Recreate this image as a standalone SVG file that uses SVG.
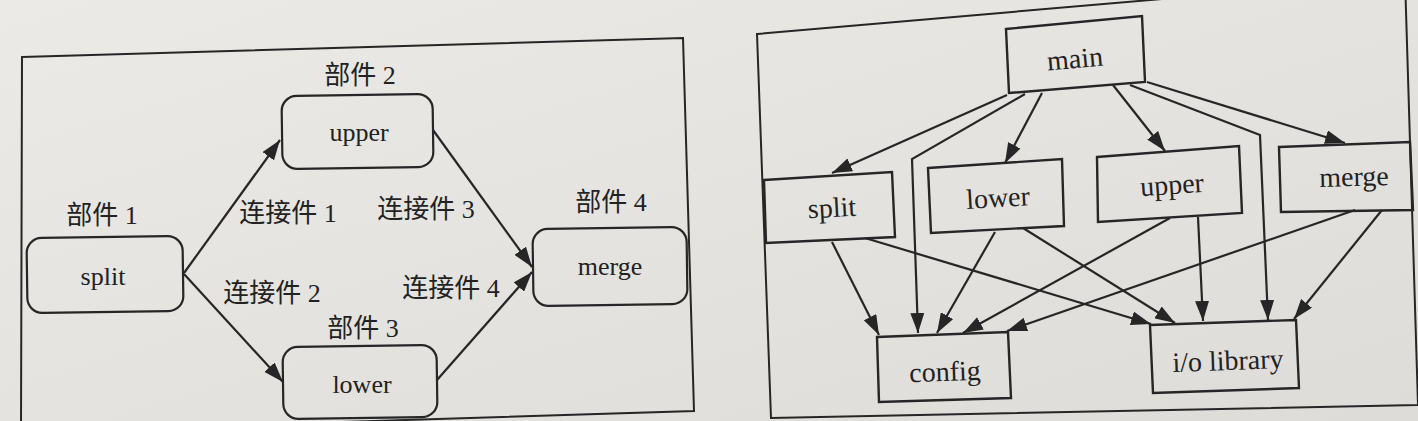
<svg xmlns="http://www.w3.org/2000/svg" width="1418" height="421" viewBox="0 0 1418 421">
<defs>
<linearGradient id="paper" x1="0" y1="0" x2="1" y2="1">
<stop offset="0" stop-color="#ebeae7"/>
<stop offset="1" stop-color="#dedcd9"/>
</linearGradient>
<marker id="ah" markerUnits="userSpaceOnUse" viewBox="0 0 20 14" markerWidth="20" markerHeight="14" refX="20" refY="7" orient="auto">
<path d="M0,0 L20,7 L0,14 z" fill="#262626"/>
</marker>
</defs>
<style>
.frame{fill:none;stroke:#262626;stroke-width:2}
.rbox{fill:none;stroke:#262626;stroke-width:2.2}
.sbox{fill:none;stroke:#262626;stroke-width:2.4}
.edge{fill:none;stroke:#262626;stroke-width:2.2;marker-end:url(#ah)}
.en{font-size:26px;fill:#222;text-anchor:middle}
.en2{font-size:28px;fill:#222;text-anchor:middle}
.cn{font-size:26px;fill:#222;text-anchor:middle}
</style>
<rect x="0" y="0" width="1418" height="421" fill="url(#paper)"/>

<!-- Left diagram -->
<polygon class="frame" points="22,57 683,38 694,411 21,432"/>
<g id="connectors-left">
<line class="edge" x1="184" y1="273" x2="280" y2="140"/>
<line class="edge" x1="184" y1="274" x2="283" y2="382"/>
<line class="edge" x1="433" y1="130" x2="532" y2="267"/>
<line class="edge" x1="437" y1="380" x2="532" y2="272"/>
</g>
<g id="l-split">
<rect class="rbox" x="27" y="237" width="156" height="75" rx="15" transform="rotate(-0.8 105 274)"/>
<text class="cn" font-family="Liberation Serif, Times New Roman, DejaVu Serif, Noto Sans CJK SC, serif" x="102" y="224">部件 1</text>
<text class="en" font-family="Liberation Serif, Times New Roman, DejaVu Serif, serif" x="103" y="285">split</text>
</g>
<g id="l-upper">
<rect class="rbox" x="282" y="95" width="151" height="73" rx="15" transform="rotate(-0.8 357 131)"/>
<text class="cn" font-family="Liberation Serif, Times New Roman, DejaVu Serif, Noto Sans CJK SC, serif" x="360" y="84">部件 2</text>
<text class="en" font-family="Liberation Serif, Times New Roman, DejaVu Serif, serif" x="359" y="141">upper</text>
</g>
<g id="l-lower">
<rect class="rbox" x="283" y="346" width="154" height="72" rx="15" transform="rotate(-0.8 360 382)"/>
<text class="cn" font-family="Liberation Serif, Times New Roman, DejaVu Serif, Noto Sans CJK SC, serif" x="363" y="337">部件 3</text>
<text class="en" font-family="Liberation Serif, Times New Roman, DejaVu Serif, serif" x="362" y="393">lower</text>
</g>
<g id="l-merge">
<rect class="rbox" x="533" y="228" width="154" height="77" rx="15" transform="rotate(-0.8 610 266)"/>
<text class="cn" font-family="Liberation Serif, Times New Roman, DejaVu Serif, Noto Sans CJK SC, serif" x="611" y="211">部件 4</text>
<text class="en" font-family="Liberation Serif, Times New Roman, DejaVu Serif, serif" x="610" y="275">merge</text>
</g>
<g id="l-labels" font-family="Liberation Serif, Times New Roman, DejaVu Serif, Noto Sans CJK SC, serif">
<text class="cn" x="288" y="222">连接件 1</text>
<text class="cn" x="272" y="302">连接件 2</text>
<text class="cn" x="426" y="218">连接件 3</text>
<text class="cn" x="451" y="297">连接件 4</text>
</g>

<!-- Right diagram -->
<polygon class="frame" points="757,34 1405,-22 1418,405 771,418"/>
<g id="connectors-right">
<line class="edge" x1="1007" y1="95" x2="832" y2="173"/>
<polyline class="edge" points="1025,94 912,159 918,333"/>
<line class="edge" x1="1042" y1="93" x2="1005" y2="163"/>
<line class="edge" x1="1113" y1="85" x2="1165" y2="151"/>
<polyline class="edge" points="1130,85 1260,135 1268,320"/>
<line class="edge" x1="1147" y1="82" x2="1345" y2="143"/>
<line class="edge" x1="832" y1="242" x2="879" y2="335"/>
<line class="edge" x1="865" y1="238" x2="1151" y2="324"/>
<line class="edge" x1="995" y1="232" x2="937" y2="333"/>
<line class="edge" x1="1023" y1="228" x2="1175" y2="323"/>
<line class="edge" x1="1170" y1="218" x2="963" y2="333"/>
<line class="edge" x1="1198" y1="217" x2="1203" y2="321"/>
<line class="edge" x1="1355" y1="210" x2="1007" y2="331"/>
<line class="edge" x1="1382" y1="210" x2="1294" y2="319"/>
</g>
<g id="right-nodes" font-family="Liberation Serif, Times New Roman, DejaVu Serif, serif">
<g id="r-main">
<polygon class="sbox" points="1006,29 1142,16 1145,82 1009,93"/>
<text class="en2" x="1075" y="68" transform="rotate(-5 1075 60)">main</text>
</g>
<g id="r-split">
<polygon class="sbox" points="764,180 892,172 895,237 766,243"/>
<text class="en2" x="832" y="217" transform="rotate(-3 832 209)">split</text>
</g>
<g id="r-lower">
<polygon class="sbox" points="928,168 1062,159 1064,226 931,233"/>
<text class="en2" x="998" y="207" transform="rotate(-3.4 998 199)">lower</text>
</g>
<g id="r-upper">
<polygon class="sbox" points="1097,157 1239,146 1242,213 1098,222"/>
<text class="en2" x="1172" y="194" transform="rotate(-4 1172 186)">upper</text>
</g>
<g id="r-merge">
<polygon class="sbox" points="1279,147 1410,142 1413,210 1281,212"/>
<text class="en2" x="1354" y="186" transform="rotate(-1.5 1354 178)">merge</text>
</g>
<g id="r-config">
<polygon class="sbox" points="877,337 1008,332 1011,398 879,402"/>
<text class="en2" x="945" y="381" transform="rotate(-2 945 373)">config</text>
</g>
<g id="r-io">
<polygon class="sbox" points="1150,325 1296,320 1299,388 1153,393"/>
<text class="en2" x="1228" y="370" transform="rotate(-2 1228 362)">i/o library</text>
</g>
</g>
</svg>
